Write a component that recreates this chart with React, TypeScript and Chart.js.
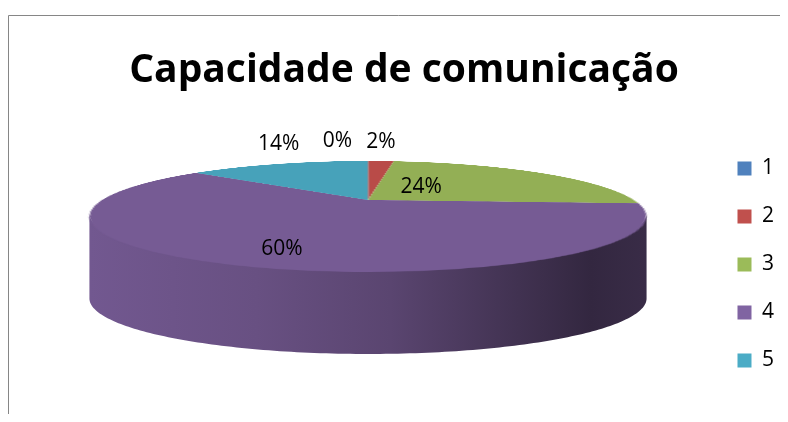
import React, { useEffect, useRef } from 'react';
import { Chart, registerables } from 'chart.js';

Chart.register(...registerables);

const TITLE = 'Capacidade de comunicação';
const categories = ['1', '2', '3', '4', '5'];
const values = [0, 2, 24, 60, 14];
const faceColors = ['#4a79b2', '#b94b48', '#93af55', '#765b94', '#47a2ba'];
const legendColors = ['#4f81bd', '#c0504d', '#9bbb59', '#8064a2', '#4bacc6'];
// radial position of each value label (>= 1 means placed outside, above the rim)
const labelRadius = [1, 1, 0.3, 0.72, 1];
// small fine-tuning nudges for the inside labels
const labelNudge: [number, number][] = [[0, 0], [0, 0], [-5, -4], [2, 7], [0, 0]];

// perspective projection of the pie's top face (canvas px)
const P = { cx: 360, cy: 192, C: 266, B: 50.6, p: 0.297, depth: 82 };
const wallShade: [number, number][] = [[0, 0.97], [0.3, 0.88], [0.54, 0.76], [0.77, 0.55], [0.9, 0.43], [1, 0.48]];
const FONT = '"Open Sans", "DejaVu Sans", sans-serif';

const project = (theta: number, r: number) => {
  const s = r * Math.sin(theta);
  const c = r * Math.cos(theta);
  const w = 1 + P.p * c;
  return { x: P.cx + (P.C * s) / w, y: P.cy - (P.B * c) / w };
};

const parseHex = (h: string) => {
  const v = h.replace('#', '');
  return [parseInt(v.slice(0, 2), 16), parseInt(v.slice(2, 4), 16), parseInt(v.slice(4, 6), 16)];
};

const borderPlugin = {
  id: 'frame',
  beforeDraw(chart: any) {
    const ctx = chart.ctx;
    ctx.save();
    ctx.strokeStyle = '#868686';
    ctx.lineWidth = 1;
    ctx.beginPath();
    ctx.moveTo(0.5, chart.height + 10);
    ctx.lineTo(0.5, 7.5);
    ctx.lineTo(chart.width + 10, 7.5);
    ctx.stroke();
    ctx.restore();
  },
};

const pie3dPlugin = {
  id: 'pie3d',
  afterDatasetsDraw(chart: any) {
    const ctx: CanvasRenderingContext2D = chart.ctx;
    const meta = chart.getDatasetMeta(0);
    const arcs = meta.data as any[];
    if (!arcs.length) return;
    const ox = arcs[0].x;
    const oy = arcs[0].y;
    const R = arcs[0].outerRadius;
    const sx0 = Math.floor(ox - R - 2);
    const sy0 = Math.floor(oy - R - 2);
    const sw = Math.ceil(2 * R + 4);
    const sh = sw;
    const src = ctx.getImageData(sx0, sy0, sw, sh);
    ctx.save();
    ctx.setTransform(1, 0, 0, 1, 0, 0);
    ctx.clearRect(sx0, sy0, sw, sh);
    ctx.restore();

    // side wall
    const sil = Math.acos(-P.p);
    const visA = sil;
    const visB = 2 * Math.PI - sil;
    const xl = project(visB, 1).x;
    const xr = project(visA, 1).x;
    arcs.forEach((arc: any) => {
      const a = arc.startAngle + Math.PI / 2;
      const b = arc.endAngle + Math.PI / 2;
      const lo = Math.max(a, visA);
      const hi = Math.min(b, visB);
      if (hi <= lo) return;
      const col = parseHex(arc.options.backgroundColor);
      const grad = ctx.createLinearGradient(xl, 0, xr, 0);
      wallShade.forEach(([pos, f]) => {
        grad.addColorStop(pos, `rgb(${Math.round(col[0] * f)},${Math.round(col[1] * f)},${Math.round(col[2] * f)})`);
      });
      ctx.save();
      ctx.fillStyle = grad;
      ctx.beginPath();
      const N = 160;
      for (let k = 0; k <= N; k++) {
        const pt = project(lo + ((hi - lo) * k) / N, 1);
        if (k === 0) ctx.moveTo(pt.x, pt.y - 3);
        else ctx.lineTo(pt.x, pt.y - 3);
      }
      for (let k = N; k >= 0; k--) {
        const pt = project(lo + ((hi - lo) * k) / N, 1);
        ctx.lineTo(pt.x, pt.y + P.depth);
      }
      ctx.closePath();
      ctx.fill();
      ctx.restore();
    });

    // warp flat pie onto perspective top face
    const bx0 = Math.floor(P.cx - 295);
    const bx1 = Math.ceil(P.cx + 295);
    const by0 = Math.floor(P.cy - 48);
    const by1 = Math.ceil(P.cy + 80);
    const dw = bx1 - bx0;
    const dh = by1 - by0;
    const off = document.createElement('canvas');
    off.width = dw;
    off.height = dh;
    const octx = off.getContext('2d')!;
    const out = octx.createImageData(dw, dh);
    const sd = src.data;
    const od = out.data;
    const get = (ix: number, iy: number, ch: number) => {
      if (ix < 0 || iy < 0 || ix >= sw || iy >= sh) return 0;
      return sd[(iy * sw + ix) * 4 + ch];
    };
    for (let y = 0; y < dh; y++) {
      for (let x = 0; x < dw; x++) {
        const X = bx0 + x + 0.5;
        const Y = by0 + y + 0.5;
        const t = (P.cy - Y) / P.B;
        const den = 1 - P.p * t;
        if (den <= 0) continue;
        const c = t / den;
        const w = 1 + P.p * c;
        const s = ((X - P.cx) * w) / P.C;
        if (s * s + c * c > 1.06) continue;
        const fx = ox + R * s - sx0 - 0.5;
        const fy = oy - R * c - sy0 - 0.5;
        const ix = Math.floor(fx);
        const iy = Math.floor(fy);
        const ax = fx - ix;
        const ay = fy - iy;
        const wts = [(1 - ax) * (1 - ay), ax * (1 - ay), (1 - ax) * ay, ax * ay];
        const pts = [[ix, iy], [ix + 1, iy], [ix, iy + 1], [ix + 1, iy + 1]];
        let A = 0, Rr = 0, G = 0, Bb = 0;
        for (let k = 0; k < 4; k++) {
          const al = get(pts[k][0], pts[k][1], 3) * wts[k];
          A += al;
          Rr += get(pts[k][0], pts[k][1], 0) * al;
          G += get(pts[k][0], pts[k][1], 1) * al;
          Bb += get(pts[k][0], pts[k][1], 2) * al;
        }
        if (A <= 0) continue;
        const o = (y * dw + x) * 4;
        od[o] = Rr / A;
        od[o + 1] = G / A;
        od[o + 2] = Bb / A;
        od[o + 3] = A;
      }
    }
    octx.putImageData(out, 0, 0);
    ctx.drawImage(off, bx0, by0);

    // value labels
    const total = values.reduce((p, v) => p + v, 0);
    ctx.save();
    ctx.font = `21px ${FONT}`;
    ctx.fillStyle = '#000';
    ctx.textAlign = 'center';
    ctx.textBaseline = 'middle';
    const placed: { x: number; y: number; w: number }[] = [];
    const GAP = 14;
    const LIFT = 19.5;
    for (let i = arcs.length - 1; i >= 0; i--) {
      const arc = arcs[i];
      const mid = (arc.startAngle + arc.endAngle) / 2 + Math.PI / 2;
      const text = `${Math.round((values[i] / total) * 100)}%`;
      const tw = ctx.measureText(text).width;
      let x: number;
      let y: number;
      if (labelRadius[i] < 1) {
        const pt = project(mid, labelRadius[i]);
        x = pt.x + labelNudge[i][0];
        y = pt.y + labelNudge[i][1];
      } else {
        const pt = project(mid, 1);
        x = pt.x;
        y = pt.y - LIFT;
        for (const q of placed) {
          if (Math.abs(q.y - y) < 20 && x + tw / 2 + GAP > q.x - q.w / 2 && x - tw / 2 - GAP < q.x + q.w / 2) {
            x = q.x - q.w / 2 - GAP - tw / 2;
          }
        }
        placed.push({ x, y, w: tw });
      }
      ctx.fillText(text, x, y);
    }
    ctx.restore();
  },
};

export default function App() {
  const ref = useRef<HTMLCanvasElement | null>(null);
  useEffect(() => {
    if (!ref.current) return;
    const chart = new Chart(ref.current, {
      type: 'pie',
      data: {
        labels: categories,
        datasets: [
          {
            data: values,
            backgroundColor: faceColors,
            borderWidth: 0,
            hoverOffset: 0,
          },
        ],
      },
      options: {
        animation: false,
        responsive: false,
        maintainAspectRatio: false,
        events: [],
        layout: { padding: { top: 20, left: 16, right: 4, bottom: 0 } },
        plugins: {
          title: {
            display: true,
            text: TITLE,
            color: '#000',
            font: { family: FONT, size: 39, weight: 'bold' },
            padding: { top: 19.4, bottom: 12.8 },
          },
          legend: {
            position: 'right',
            align: 'center',
            fullSize: false,
            labels: {
              boxWidth: 14,
              boxHeight: 14,
              padding: 27,
              color: '#000',
              font: { family: FONT, size: 21 },
              generateLabels: () =>
                categories.map((c, i) => ({
                  text: c,
                  fillStyle: legendColors[i],
                  strokeStyle: legendColors[i],
                  lineWidth: 0,
                  hidden: false,
                  index: i,
                })),
            },
          },
          tooltip: { enabled: false },
        },
      } as any,
      plugins: [borderPlugin, pie3dPlugin],
    });
    return () => chart.destroy();
  }, []);
  return (
    <canvas
      ref={ref}
      width={780}
      height={414}
      style={{ display: 'block', width: 780, height: 414, marginBottom: -8 }}
    />
  );
}
